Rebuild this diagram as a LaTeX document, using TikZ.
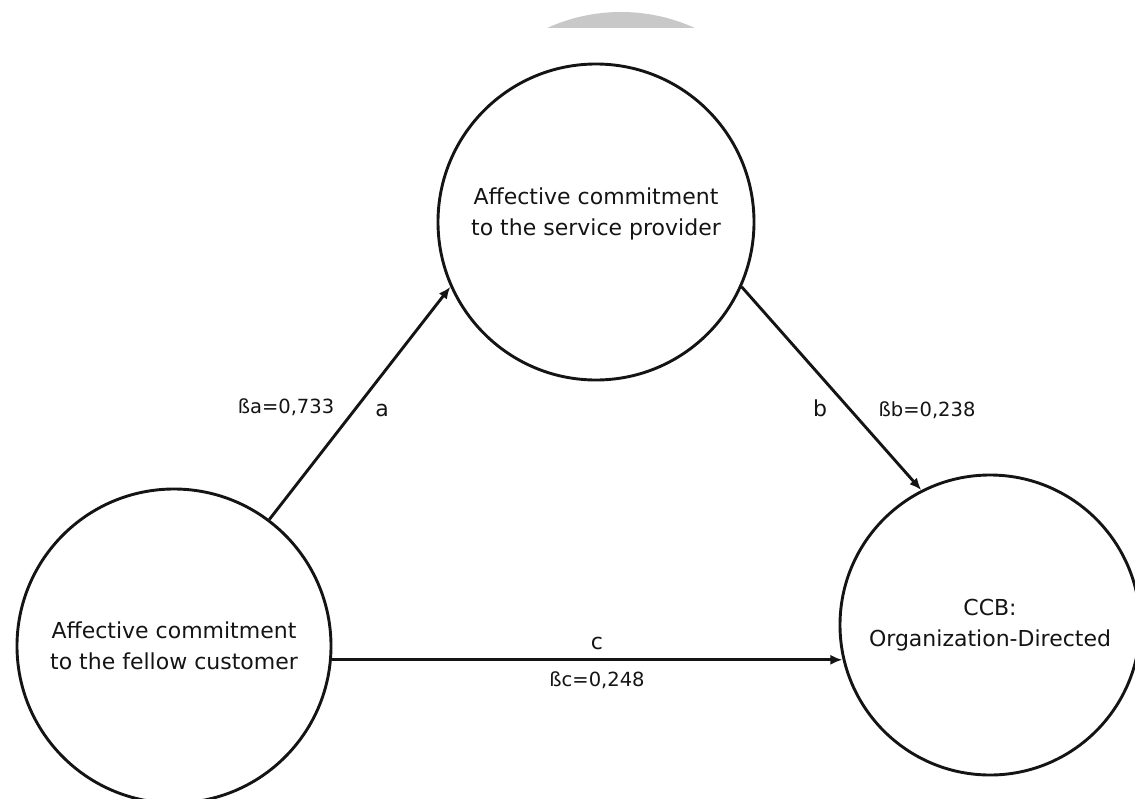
\documentclass[tikz,border=0pt]{standalone}
\usepackage{fontspec}
\setmainfont{DejaVu Sans}
\usetikzlibrary{arrows.meta}
\definecolor{ink}{RGB}{20,20,20}
\definecolor{haze}{RGB}{200,200,200}

\begin{document}
\begin{tikzpicture}[x=1pt, y=-1pt,
    construct/.style={circle, draw=ink, line width=2.9pt, inner sep=0pt, align=center,
                      font=\fontsize{22}{31}\selectfont, text=ink},
    link/.style={-{Latex[length=12pt, width=10pt]}, draw=ink, line width=2.9pt},
    coef/.style={font=\fontsize{19.5}{24}\selectfont, text=ink},
    tag/.style={font=\fontsize{22}{26}\selectfont, text=ink}
  ]
  \useasboundingbox (0,0) rectangle (1135,798);
  % faded shape at the top edge
  \begin{scope}
    \clip (500,0) rectangle (750,27);
    \fill[haze] (621,190) circle[radius=178pt];
  \end{scope}

  % constructs
  \node[construct, minimum size=314pt] (fellow) at (174,646)
       {Affective commitment\\to the fellow customer};
  \node[construct, minimum size=316pt, text depth=20pt] (provider) at (596,222)
       {Affective commitment\\to the service provider};
  \node[construct, minimum size=300pt] (ccb) at (990,625)
       {CCB:\\Organization-Directed};

  % paths
  \draw[link] (fellow.53) -- (provider.204);
  \draw[link] (provider.336) -- (ccb.117);
  \draw[link] (fellow.-5) -- (fellow.-5 -| ccb.193);

  % coefficients
  \node[coef] at (286,407) {ßa=0,733};
  \node[tag]  at (382,410) {a};
  \node[tag]  at (820,408) {b};
  \node[coef] at (927,410) {ßb=0,238};
  \node[tag]  at (597,643) {c};
  \node[coef] at (597,680) {ßc=0,248};
\end{tikzpicture}
\end{document}
